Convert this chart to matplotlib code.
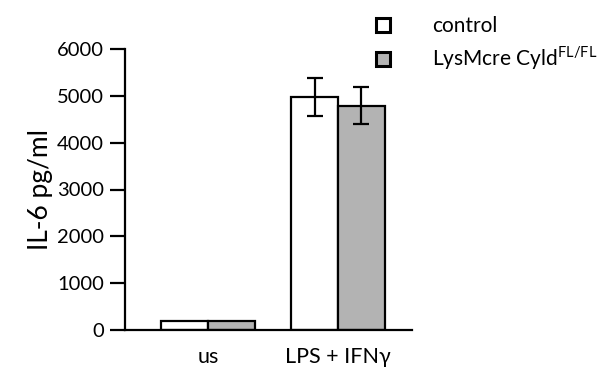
import numpy as np
import matplotlib
matplotlib.use("Agg")
import matplotlib.pyplot as plt

plt.rcParams['font.family'] = ['Lato', 'DejaVu Sans']
plt.rcParams['mathtext.fontset'] = 'custom'
plt.rcParams['mathtext.rm'] = 'Lato'

groups = ["us", "LPS + IFN\u03b3"]
series = ["control", "LysMcre Cyld$^{\\mathrm{FL/FL}}$"]
control = [200, 4980]
control_err = [0, 410]
cyld = [200, 4790]
cyld_err = [0, 390]

fig = plt.figure(figsize=(6.03, 3.80), dpi=100)
ax = fig.add_axes([125 / 603, 50 / 380, (412 - 125) / 603, (330 - 49) / 380])

x = np.arange(len(groups))
w = 0.36
ekw = dict(elinewidth=1.6, capthick=1.6, ecolor="black")
b1 = ax.bar(x - w / 2, control, w, color="white", edgecolor="black", linewidth=1.6,
            yerr=[e if e else np.nan for e in control_err], capsize=6, error_kw=ekw, label=series[0])
b2 = ax.bar(x + w / 2, cyld, w, color="#b3b3b3", edgecolor="black", linewidth=1.6,
            yerr=[e if e else np.nan for e in cyld_err], capsize=6, error_kw=ekw, label=series[1])

ax.set_xlim(-0.64, 1.57)
ax.set_ylim(0, 6000)
ax.set_yticks(np.arange(0, 6001, 1000))
ax.set_xticks(x)
ax.set_xticklabels(groups)
ax.tick_params(axis="x", length=0, pad=12, labelsize=15.5)
ax.tick_params(axis="y", length=11, width=1.6, pad=4, labelsize=14.5)
for s in ("top", "right"):
    ax.spines[s].set_visible(False)
for s in ("left", "bottom"):
    ax.spines[s].set_linewidth(1.6)
ax.set_ylabel("IL-6 pg/ml", fontsize=19, labelpad=3)

leg = fig.legend(handles=[b1, b2], labels=series, loc="upper left", bbox_to_anchor=(368 / 603, 1 - 8 / 380),
                 frameon=False, fontsize=15, handlelength=0.66, handleheight=0.66,
                 handletextpad=2.0, labelspacing=0.4, borderaxespad=0)
for h in leg.legend_handles:
    h.set_linewidth(2.2)

fig.savefig("out.png", dpi=100)
